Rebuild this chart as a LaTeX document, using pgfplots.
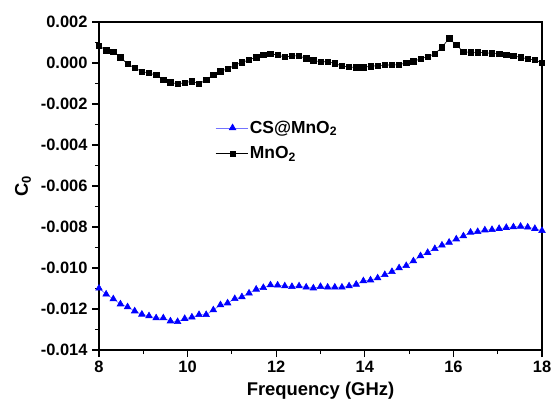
\documentclass[border=0pt]{standalone}
\usepackage{fontspec}
\setmainfont{Liberation Sans}
\usepackage{pgfplots}
\usepackage{pgfplotstable}
\pgfplotsset{compat=1.18}
\pgfplotstableread{
x cs mn
8.000 -0.01099 0.00084
8.161 -0.01128 0.00062
8.323 -0.01151 0.00055
8.484 -0.01176 0.00028
8.645 -0.01190 -0.00005
8.806 -0.01210 -0.00024
8.968 -0.01226 -0.00042
9.129 -0.01234 -0.00049
9.290 -0.01244 -0.00059
9.452 -0.01244 -0.00083
9.613 -0.01259 -0.00094
9.774 -0.01262 -0.00102
9.935 -0.01247 -0.00096
10.097 -0.01240 -0.00089
10.258 -0.01228 -0.00101
10.419 -0.01228 -0.00083
10.581 -0.01205 -0.00057
10.742 -0.01180 -0.00040
10.903 -0.01171 -0.00029
11.065 -0.01150 -0.00011
11.226 -0.01141 0.00003
11.387 -0.01123 0.00015
11.548 -0.01104 0.00028
11.710 -0.01096 0.00039
11.871 -0.01083 0.00045
12.032 -0.01084 0.00039
12.194 -0.01088 0.00029
12.355 -0.01091 0.00034
12.516 -0.01088 0.00035
12.677 -0.01094 0.00022
12.839 -0.01098 0.00013
13.000 -0.01091 0.00006
13.161 -0.01094 0.00006
13.323 -0.01094 -0.00002
13.484 -0.01094 -0.00015
13.645 -0.01088 -0.00020
13.806 -0.01080 -0.00021
13.968 -0.01063 -0.00021
14.129 -0.01059 -0.00016
14.290 -0.01049 -0.00013
14.452 -0.01033 -0.00010
14.613 -0.01018 -0.00010
14.774 -0.01000 -0.00008
14.935 -0.00989 0.00000
15.097 -0.00966 0.00008
15.258 -0.00941 0.00020
15.419 -0.00925 0.00031
15.581 -0.00906 0.00045
15.742 -0.00889 0.00077
15.903 -0.00875 0.00120
16.065 -0.00859 0.00088
16.226 -0.00844 0.00055
16.387 -0.00826 0.00052
16.548 -0.00823 0.00052
16.710 -0.00815 0.00050
16.871 -0.00813 0.00047
17.032 -0.00808 0.00044
17.194 -0.00803 0.00039
17.355 -0.00800 0.00034
17.516 -0.00797 0.00028
17.677 -0.00801 0.00020
17.839 -0.00808 0.00015
18.000 -0.00818 0.00001
}\datatable
\begin{document}
\begin{tikzpicture}
\path[use as bounding box] (-99bp,-59bp) rectangle (452bp,350bp);
\begin{axis}[
  at={(0,0)}, anchor=south west,
  scale only axis, width=443bp, height=328bp,
  xmin=8, xmax=18, ymin=-0.014, ymax=0.002,
  xtick={8,10,...,18},
  minor xtick={9,11,...,17},
  ytick={-0.014,-0.012,-0.010,-0.008,-0.006,-0.004,-0.002,0.000,0.002},
  yticklabels={-0.014,-0.012,-0.010,-0.008,-0.006,-0.004,-0.002,0.000,0.002},
  minor ytick={-0.013,-0.011,-0.009,-0.007,-0.005,-0.003,-0.001,0.001},
  scaled y ticks=false,
  xtick pos=bottom, ytick pos=left,
  tick align=outside,
  major tick length=7bp, minor tick length=4bp,
  every tick/.style={black, line width=1.1bp},
  axis line style={line width=1.3bp},
  /pgf/number format/assume math mode=true,
  tick label style={font=\fontsize{16.5}{19}\selectfont\bfseries},
  xticklabel style={yshift=-1bp},
  yticklabel style={xshift=-1bp},
  xlabel={Frequency (GHz)},
  ylabel={C$_\mathbf{0}$},
  xlabel style={yshift=-2bp},
  ylabel style={yshift=3bp},
  label style={font=\fontsize{18.5}{21}\selectfont\bfseries},
  legend style={at={(0.262,0.705)}, anchor=north west, draw=none, fill=none,
    font=\fontsize{17.5}{20}\selectfont\bfseries, row sep=8bp, inner sep=0pt},
  legend cell align=left,
  legend image code/.code={
    \draw[#1] (0bp,0bp) -- (32bp,0bp);
    \draw[#1, only marks] plot coordinates {(17bp,0bp)};
  },
]
\addplot[color=blue!55, line width=0.6bp, mark=triangle*, mark size=3.8bp,
  mark options={draw=blue, fill=blue, solid}] table[x=x, y=cs] {\datatable};
\addlegendentry{CS@MnO\textsubscript{2}}
\addplot[color=black, line width=0.6bp, mark=square*, mark size=2.7bp,
  mark options={draw=black, fill=black, solid}] table[x=x, y=mn] {\datatable};
\addlegendentry{MnO\textsubscript{2}}
\end{axis}
\end{tikzpicture}
\end{document}
